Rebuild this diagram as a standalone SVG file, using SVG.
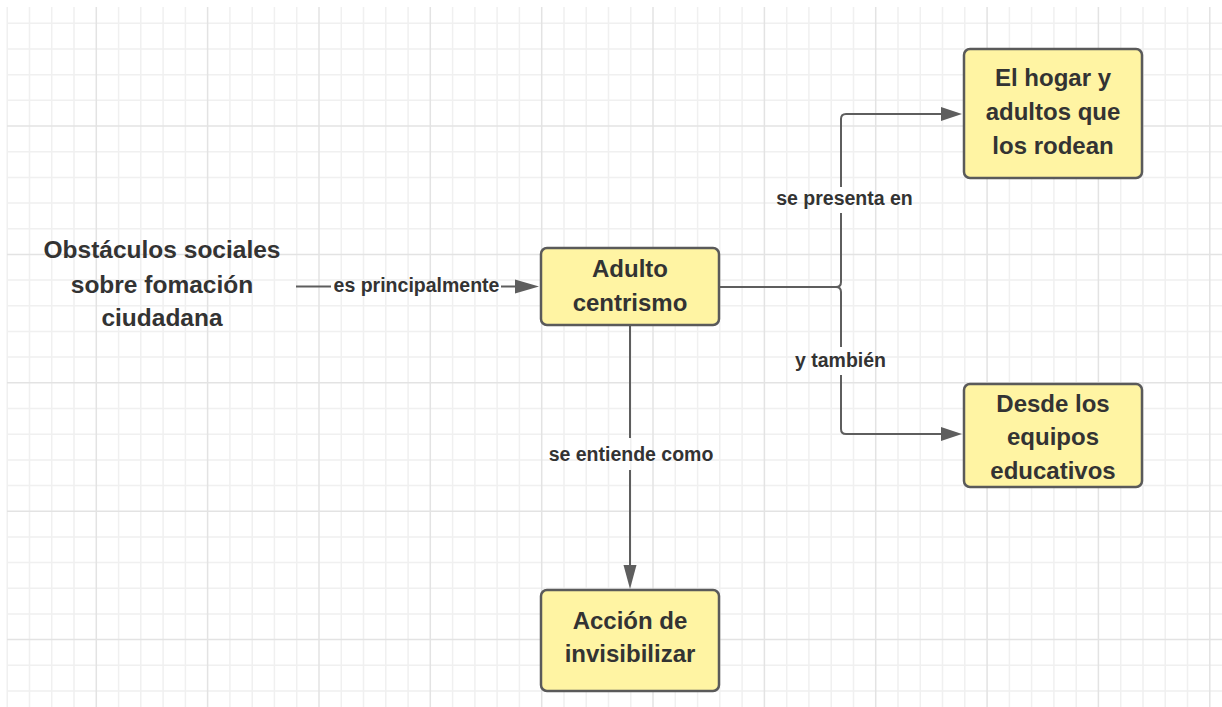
<svg xmlns="http://www.w3.org/2000/svg" width="1222" height="707" viewBox="0 0 1222 707">
<style>
.minor{stroke:#f0f0f0;stroke-width:1.5;fill:none}
.major{stroke:#e3e3e3;stroke-width:1.5;fill:none}
.box{fill:#fff4a3;stroke:#5a5a5a;stroke-width:2.5}
.t{font-family:"Liberation Sans",Arial,sans-serif;font-weight:bold;font-size:24px;fill:#333333;text-anchor:middle}
.lbl{font-family:"Liberation Sans",Arial,sans-serif;font-weight:bold;font-size:19.5px;fill:#333333;text-anchor:middle}
.ln{stroke:#5e5e5e;stroke-width:2;fill:none}
.ah{fill:#5e5e5e}
</style>
<rect width="1222" height="707" fill="#ffffff"/>
<g id="grid">
<path class="minor" d="M7.2 7V707M29.5 7V707M51.7 7V707M74 7V707M118.6 7V707M140.8 7V707M163.1 7V707M185.4 7V707M229.9 7V707M252.2 7V707M274.4 7V707M296.7 7V707M341.3 7V707M363.5 7V707M385.8 7V707M408.1 7V707M452.6 7V707M474.9 7V707M497.1 7V707M519.4 7V707M564 7V707M586.2 7V707M608.5 7V707M630.8 7V707M675.3 7V707M697.6 7V707M719.8 7V707M742.1 7V707M786.7 7V707M808.9 7V707M831.2 7V707M853.5 7V707M898 7V707M920.3 7V707M942.5 7V707M964.8 7V707M1009.4 7V707M1031.6 7V707M1053.9 7V707M1076.2 7V707M1120.7 7V707M1143 7V707M1165.2 7V707M1187.5 7V707
M7 23.3H1222M7 49H1222M7 74.7H1222M7 100.3H1222M7 151.7H1222M7 177.4H1222M7 203.1H1222M7 228.7H1222M7 280.1H1222M7 305.8H1222M7 331.5H1222M7 357.1H1222M7 408.5H1222M7 434.2H1222M7 459.9H1222M7 485.5H1222M7 536.9H1222M7 562.6H1222M7 588.3H1222M7 613.9H1222M7 665.3H1222M7 691H1222"/>
<path class="major" d="M96.3 7V707M207.6 7V707M319 7V707M430.3 7V707M541.7 7V707M653 7V707M764.4 7V707M875.7 7V707M987.1 7V707M1098.4 7V707M1209.8 7V707M7 126H1222M7 254.4H1222M7 382.8H1222M7 511.2H1222M7 639.6H1222"/>
</g>
<g id="connectors">
<path class="ln" d="M296 286.5H331M501 286.5H516"/>
<polygon class="ah" points="539,286.5 515,279.5 515,293.5"/>
<path class="ln" d="M720 287H836Q841 287 841 282V213M841 187V119Q841 114 846 114H944"/>
<polygon class="ah" points="962,114 941,107 941,121"/>
<path class="ln" d="M836 287Q841 287 841 292V347M841 375V429Q841 434 846 434H944"/>
<polygon class="ah" points="962,434 941,427 941,441"/>
<path class="ln" d="M630 326V438M630 470V568"/>
<polygon class="ah" points="630,589 623.5,565 636.5,565"/>
<text class="lbl" x="416.5" y="292">es principalmente</text>
<text class="lbl" x="844.5" y="205">se presenta en</text>
<text class="lbl" x="840.5" y="367">y también</text>
<text class="lbl" x="631" y="461">se entiende como</text>
</g>
<g id="obstaculos">
<text class="t" style="font-size:24.5px" x="162" y="258">Obstáculos sociales</text>
<text class="t" style="font-size:24.5px" x="162" y="293">sobre fomación</text>
<text class="t" style="font-size:24.5px" x="162" y="326">ciudadana</text>
</g>
<g id="adulto">
<rect class="box" x="541" y="248" width="178" height="77" rx="6"/>
<text class="t" x="630" y="277">Adulto</text>
<text class="t" x="630" y="311">centrismo</text>
</g>
<g id="hogar">
<rect class="box" x="964" y="49" width="178" height="129" rx="6"/>
<text class="t" x="1053" y="86">El hogar y</text>
<text class="t" x="1053" y="120">adultos que</text>
<text class="t" x="1053" y="154">los rodean</text>
</g>
<g id="equipos">
<rect class="box" x="964" y="384" width="178" height="103" rx="6"/>
<text class="t" x="1053" y="412">Desde los</text>
<text class="t" x="1053" y="445">equipos</text>
<text class="t" x="1053" y="479">educativos</text>
</g>
<g id="accion">
<rect class="box" x="541" y="590" width="178" height="101" rx="6"/>
<text class="t" x="630" y="629">Acción de</text>
<text class="t" x="630" y="662">invisibilizar</text>
</g>
</svg>
